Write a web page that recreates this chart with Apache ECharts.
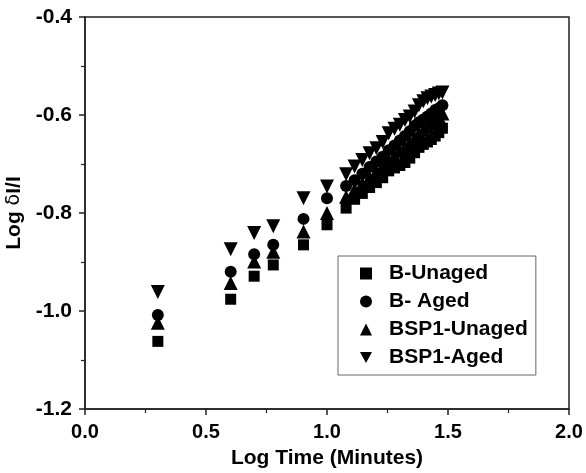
<!DOCTYPE html>
<html>
<head>
<meta charset="utf-8">
<script src="https://cdn.jsdelivr.net/npm/echarts@6/dist/echarts.min.js"></script>
<style>
  html, body { margin: 0; padding: 0; background: #fff; }
  #chart { width: 586px; height: 473px; }
</style>
</head>
<body>
<div id="chart"></div>
<script>
// log10 of time in minutes
const logTime = [0.301, 0.602, 0.699, 0.778, 0.903, 1.0, 1.079, 1.114, 1.146, 1.176, 1.204, 1.230, 1.255,
    1.279, 1.301, 1.322, 1.342, 1.362, 1.380, 1.398, 1.415, 1.431, 1.447, 1.462, 1.477];

const bUnaged = [-1.062, -0.976, -0.929, -0.906, -0.865, -0.824, -0.790, -0.772, -0.760, -0.748, -0.738, -0.728, -0.714,
    -0.708, -0.703, -0.697, -0.688, -0.677, -0.666, -0.660, -0.655, -0.650, -0.643, -0.636, -0.627];
const bAged = [-1.008, -0.920, -0.884, -0.865, -0.812, -0.770, -0.745, -0.733, -0.720, -0.706, -0.695, -0.685, -0.672,
    -0.662, -0.652, -0.643, -0.633, -0.622, -0.615, -0.609, -0.603, -0.597, -0.590, -0.586, -0.580];
const bsp1Unaged = [-1.024, -0.943, -0.899, -0.879, -0.838, -0.800, -0.767, -0.752, -0.740, -0.727, -0.715, -0.704, -0.692,
    -0.683, -0.673, -0.665, -0.656, -0.647, -0.638, -0.630, -0.624, -0.617, -0.610, -0.603, -0.597];
const bsp1Aged = [-0.961, -0.874, -0.841, -0.827, -0.770, -0.746, -0.721, -0.705, -0.692, -0.678, -0.668, -0.655, -0.637,
    -0.628, -0.620, -0.610, -0.603, -0.593, -0.580, -0.572, -0.566, -0.562, -0.559, -0.556, -0.554];

const seriesNames = ['B-Unaged', 'B- Aged', 'BSP1-Unaged', 'BSP1-Aged'];

const pair = ys => ys.map((y, i) => [logTime[i], y]);

const font = 'Liberation Sans, Arial, sans-serif';
const axisColor = '#222';

const myChart = echarts.init(document.getElementById('chart'));

const mkSeries = (name, ys, symbol, size, rotate) => ({
    name: name,
    type: 'scatter',
    data: pair(ys),
    symbol: symbol,
    symbolSize: size,
    symbolRotate: rotate || 0,
    itemStyle: {color: '#000', opacity: 1}
});

const option = {
    animation: false,
    backgroundColor: '#fff',
    grid: {
        left: 85, right: 17, top: 17, bottom: 64,
        containLabel: false,
        outerBoundsMode: 'none',
        show: true, borderColor: axisColor, borderWidth: 1.5
    },
    legend: {
        orient: 'vertical',
        left: 338, top: 256,
        padding: [7, 8, 7, 22],
        borderColor: '#666', borderWidth: 1,
        itemGap: 7,
        itemWidth: 12, itemHeight: 12,
        textStyle: {fontFamily: font, fontSize: 21, fontWeight: 'bold', color: '#000', padding: [0, 0, 0, 12]},
        data: [
            {name: seriesNames[0], icon: 'rect', itemStyle: {opacity: 1}},
            {name: seriesNames[1], icon: 'circle', itemStyle: {opacity: 1}},
            {name: seriesNames[2], icon: 'triangle', itemStyle: {opacity: 1}},
            {name: seriesNames[3], icon: 'path://M0,0 L10,0 L5,9 Z', itemStyle: {opacity: 1}}
        ]
    },
    xAxis: {
        type: 'value',
        min: 0, max: 2, interval: 0.5,
        name: 'Log Time (Minutes)',
        nameLocation: 'middle',
        nameGap: 39,
        nameTextStyle: {fontFamily: font, fontSize: 21, fontWeight: 'bold', color: '#000'},
        axisLine: {lineStyle: {color: axisColor, width: 1.5}},
        axisTick: {show: true, length: 6, lineStyle: {color: axisColor, width: 1.5}},
        minorTick: {show: true, splitNumber: 2, length: 4, lineStyle: {color: axisColor, width: 1.2}},
        splitLine: {show: false},
        axisLabel: {
            fontFamily: font, fontSize: 20, fontWeight: 'bold', color: '#000', margin: 13,
            formatter: v => v.toFixed(1)
        }
    },
    yAxis: {
        type: 'value',
        min: -1.2, max: -0.4, interval: 0.2,
        name: '{b|Log }{d|δ}{b|I/I}',
        nameLocation: 'middle',
        nameGap: 57,
        nameRotate: 90,
        nameTextStyle: {
            rich: {
                b: {fontFamily: font, fontSize: 21, fontWeight: 'bold', color: '#000'},
                d: {fontFamily: 'DejaVu Sans, sans-serif', fontSize: 19, color: '#000'}
            }
        },
        axisLine: {lineStyle: {color: axisColor, width: 1.5}},
        axisTick: {show: true, length: 6, lineStyle: {color: axisColor, width: 1.5}},
        minorTick: {show: true, splitNumber: 2, length: 4, lineStyle: {color: axisColor, width: 1.2}},
        splitLine: {show: false},
        axisLabel: {
            fontFamily: font, fontSize: 21, fontWeight: 'bold', color: '#000', margin: 13,
            formatter: v => v.toFixed(1)
        }
    },
    series: [
        mkSeries(seriesNames[0], bUnaged, 'rect', 11),
        mkSeries(seriesNames[1], bAged, 'circle', 12),
        mkSeries(seriesNames[2], bsp1Unaged, 'triangle', 14),
        mkSeries(seriesNames[3], bsp1Aged, 'triangle', 14, 180)
    ]
};

myChart.setOption(option);
</script>
</body>
</html>
